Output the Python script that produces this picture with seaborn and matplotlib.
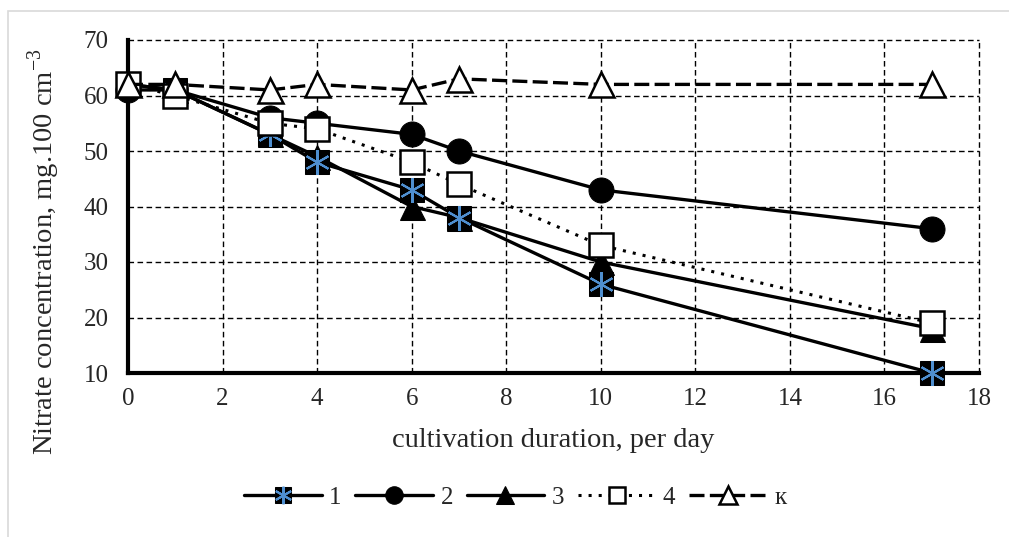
import numpy as np
import pandas as pd
import matplotlib
matplotlib.use("Agg")
import matplotlib.pyplot as plt
from matplotlib.legend_handler import HandlerTuple
from matplotlib.patches import Rectangle
from matplotlib.ticker import MultipleLocator
import seaborn as sns

days = [0, 1, 3, 4, 6, 7, 10, 17]
s1 = [62, 61, 53, 48, 43, 38, 26, 10]
s2 = [61, 61, 56, 55, 53, 50, 43, 36]
s3 = [62, 61, 53, 49, 40, 38, 30, 18]
s4 = [62, 60, 55, 54, 48, 44, 33, 19]
sk = [62, 62, 61, 62, 61, 63, 62, 62]
labels = ["1", "2", "3", "4", "к"]

sns.set_style("white")
plt.rcParams['font.family'] = ['Liberation Serif', 'DejaVu Serif']
plt.rcParams['mathtext.fontset'] = 'custom'
plt.rcParams['mathtext.rm'] = 'Liberation Serif'

fig = plt.figure(figsize=(10.09, 5.37), dpi=100)
fig.patches.append(Rectangle((8/1009, -0.1), 1.2, 1 - 11/537 + 0.1, transform=fig.transFigure,
                             fill=False, edgecolor='#d9d9d9', linewidth=1.2, zorder=0))
ax = fig.add_axes([128/1009, 1 - 373/537, (979-128)/1009, (373-40)/537])

lw = 2.4
ms = 18

sns.lineplot(x=days, y=s2, ax=ax, color='black', linewidth=lw, marker='o', markersize=ms,
             markerfacecolor='black', markeredgecolor='black', clip_on=False, zorder=3)
sns.lineplot(x=days, y=s3, ax=ax, color='black', linewidth=lw, marker='^', markersize=ms,
             markerfacecolor='black', markeredgecolor='black', clip_on=False, zorder=3)
sns.lineplot(x=days, y=s1, ax=ax, color='black', linewidth=lw, marker='s', markersize=ms - 1,
             markerfacecolor='black', markeredgecolor='black', clip_on=False, zorder=4)
sns.lineplot(x=days, y=s1, ax=ax, color='#4f8fd0', linewidth=0, marker=(6, 2, 0), markersize=ms,
             markeredgecolor='#4f8fd0', markeredgewidth=1.5, clip_on=False, zorder=5)
sns.lineplot(x=days, y=s4, ax=ax, color='black', linewidth=2.2, linestyle=(0, (1, 2.3)), marker='s',
             markersize=ms - 1, markerfacecolor='white', markeredgecolor='black', markeredgewidth=1.8,
             clip_on=False, zorder=6)
sns.lineplot(x=days, y=sk, ax=ax, color='black', linewidth=lw, linestyle=(0, (4.5, 1.6)), marker='^',
             markersize=ms, markerfacecolor='white', markeredgecolor='black', markeredgewidth=1.8,
             clip_on=False, zorder=7)

lines = ax.get_lines()
h1 = (lines[2], lines[3])
handles = [h1, lines[0], lines[1], lines[4], lines[5]]
leg = ax.legend(handles, labels, handler_map={tuple: HandlerTuple(ndivide=1)},
                loc='center', bbox_to_anchor=(0.455, -0.375), ncol=5, frameon=False,
                fontsize=18, handlelength=3.1, columnspacing=0.55, handletextpad=0.3,
                markerscale=0.7)

ax.set_xlim(0, 18)
ax.set_ylim(10, 70)
ax.xaxis.set_major_locator(MultipleLocator(2))
ax.yaxis.set_major_locator(MultipleLocator(10))
ax.xaxis.set_minor_locator(MultipleLocator(0.4))
ax.yaxis.set_minor_locator(MultipleLocator(2))
ax.tick_params(which='both', direction='in', color='black', labelsize=18)
ax.tick_params(which='major', length=4, width=2)
ax.tick_params(which='minor', length=4, width=2)
ax.tick_params(axis='x', pad=11)
ax.tick_params(axis='y', pad=14)
ax.grid(True, which='major', color='black', linestyle=(0, (4, 2.5)), linewidth=1.0)
for s in ['top', 'right']:
    ax.spines[s].set_visible(False)
for s in ['left', 'bottom']:
    ax.spines[s].set_linewidth(3)
    ax.spines[s].set_color('black')
ax.set_axisbelow(True)
for gl in ax.get_xgridlines() + ax.get_ygridlines():
    gl.set_clip_on(False)

ax.set_xlabel("cultivation duration, per day", fontsize=20.5, labelpad=13)
ax.set_ylabel(r"Nitrate concentration, mg.100 cm$^{\mathregular{{-}3}}$", fontsize=20.5)
ax.yaxis.set_label_coords(-0.077, 0.363)

fig.savefig("out.png", dpi=100)
